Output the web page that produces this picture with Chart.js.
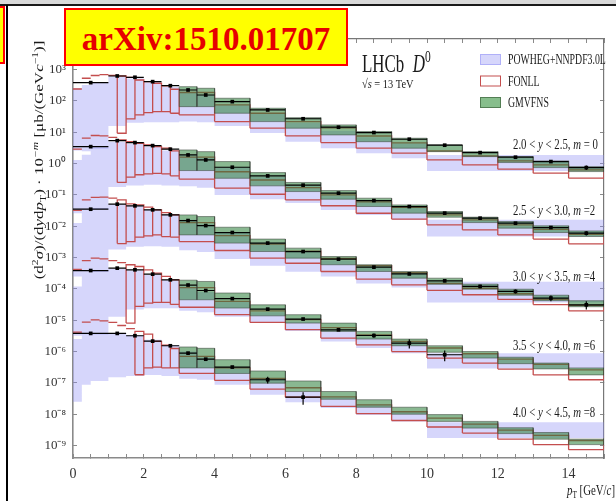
<!DOCTYPE html>
<html lang="en">
<head>
<meta charset="utf-8">
<title>LHCb D0 - 13 TeV</title>
<script src="https://cdn.jsdelivr.net/npm/chart.js@4.4.1/dist/chart.umd.min.js"></script>
<style>
  html, body { margin: 0; padding: 0; background: #fff; }
  #cadre { position: relative; width: 616px; height: 501px; overflow: hidden; background: #fff; }
  #graphe { position: absolute; left: 0; top: 0; }
  .bandeau { position: absolute; left: 0; top: 0; width: 616px; height: 4px; background: #d9d9d9; }
  .filet { position: absolute; left: 0; top: 4px; width: 616px; height: 2px; background: #1a1a1a; }
  .barre { position: absolute; left: 6px; top: 5px; width: 2px; height: 496px; background: #000; }
  .onglet { position: absolute; left: -8px; top: 6px; width: 9px; height: 54px; background: #ff0; border: 2px solid #f00; }
  .arxiv {
    position: absolute; left: 64px; top: 8px; width: 280px; height: 54px;
    background: #ff0; border: 2px solid #f00; color: #e60000;
    font: bold 33px "Liberation Serif", serif; text-align: center; line-height: 58px;
  }
</style>
</head>
<body>
<div id="cadre">
  <canvas id="graphe" width="616" height="501"></canvas>
  <div class="bandeau"></div>
  <div class="filet"></div>
  <div class="barre"></div>
  <div class="onglet"></div>
  <div class="arxiv">arXiv:1510.01707</div>
</div>
<script>
/**
 * Bords des bins en pT (GeV/c) de chaque jeu de données.
 */
const bordsMesure = [0, 1, 1.5, 2, 2.5, 3, 3.5, 4, 5, 6, 7, 8, 9, 10, 11, 12, 13, 14, 15]
const bordsPowheg = [0, 0.25, 0.5, 1, 1.5, 2, 2.5, 3, 3.5, 4, 5, 6, 7, 8, 9, 10, 15]
const bordsFonll = [0, 0.25, 0.5, 0.75, 1, 1.25, 1.5, 1.75, 2, 2.25, 2.5, 2.75, 3, 4, 5, 6, 7, 8, 9, 10, 11, 12, 13, 14, 15]
const bordsGmvfns = [3, 3.5, 4, 5, 6, 7, 8, 9, 10, 11, 12, 13, 14, 15]
const graduationsY = [1e-9, 1e-8, 1e-7, 1e-6, 1e-5, 1e-4, 1e-3, 1e-2, 1e-1, 1, 10, 100, 1000]
const graduationsX = [0, 2, 4, 6, 8, 10, 12, 14]

/**
 * Intervalles en rapidité et facteur d'échelle 10^-m.
 */
const rapiditeMin = ['2.0', '2.5', '3.0', '3.5', '4.0']
const rapiditeMax = ['2.5', '3.0', '3.5', '4.0', '4.5']
const exposantM = [0, 2, 4, 6, 8]

/**
 * 2.0 < y < 2.5, m = 0
 */
const mesureY1 = [384, 627, 570, 413, 307, 224, 155, 95, 51.6, 27, 14.5, 9.8, 6.0, 3.87, 2.24, 1.6, 1.16, 0.745]
const erreurY1 = [20, 30, 28, 20, 15, 11, 8, 4.5, 2.5, 1.3, 0.8, 0.6, 0.35, 0.25, 0.18, 0.14, 0.12, 0.12]
const powhegHautY1 = [254, 324, 390, 600, 520, 390, 280, 198, 155, 75, 40, 20, 11, 7, 4.5, 1.89]
const powhegBasY1 = [2.6, 2.5, 3.0, 16, 20, 21, 21, 22, 21, 16, 9.5, 5.0, 3.1, 2.15, 1.49, 0.585]
const fonllHautY1 = [241, 530, 650, 690, 660, 627, 570, 467, 413, 367, 301, 236, 186, 74.6, 40.5, 21.9, 13.8, 7.6, 4.6, 2.54, 1.76, 1.22, 0.91, 0.63]
const fonllBasY1 = [null, null, null, null, null, 9.3, 26.7, 35.7, 42.4, 45.6, 45.6, 40.5, 35.7, 21.9, 13.5, 7.65, 4.68, 3.1, 2.15, 1.31, 0.91, 0.663, 0.494, 0.342]
const gmvfnsHautY1 = [286, 254, 122, 58.5, 29.3, 17.2, 10.5, 6.46, 3.95, 2.41, 1.67, 1.22, 0.80]
const gmvfnsBasY1 = [65.8, 65.8, 40.5, 21.9, 13.5, 8.23, 5.0, 3.1, 2.41, 1.67, 1.08, 0.745, 0.556]

/**
 * 2.5 < y < 3.0, m = 2
 */
const mesureY2 = [3.48, 5.42, 4.68, 3.75, 2.88, 1.89, 1.31, 0.766, 0.405, 0.205, 0.114, 0.066, 0.0426, 0.0262, 0.0181, 0.0125, 0.0091, 0.006]
const erreurY2 = [0.17, 0.27, 0.23, 0.18, 0.14, 0.09, 0.065, 0.04, 0.02, 0.011, 0.006, 0.0038, 0.0026, 0.0019, 0.0015, 0.0012, 0.001, 0.0009]
const powhegHautY2 = [1.3, 1.9, 3.3, 5.0, 4.3, 3.5, 2.6, 1.9, 1.5, 0.75, 0.38, 0.19, 0.1, 0.06, 0.038, 0.016]
const powhegBasY2 = [0.026, 0.03, 0.035, 0.18, 0.2, 0.21, 0.2, 0.19, 0.17, 0.1, 0.073, 0.055, 0.033, 0.023, 0.016, 0.0047]
const fonllHautY2 = [2.88, 6.46, 7.9, 7.65, 6.9, 5.7, 5.0, 4.47, 3.95, 3.47, 3.1, 2.54, 1.6, 0.55, 0.3, 0.17, 0.1, 0.06, 0.04, 0.023, 0.016, 0.011, 0.008, 0.0055]
const fonllBasY2 = [null, null, null, null, null, 0.25, 0.37, 0.44, 0.47, 0.49, 0.47, 0.405, 0.318, 0.164, 0.105, 0.0695, 0.0452, 0.026, 0.017, 0.0111, 0.0077, 0.0053, 0.0039, 0.00275]
const gmvfnsHautY2 = [2.73, 2.41, 1.16, 0.516, 0.25, 0.138, 0.0787, 0.048, 0.0295, 0.0195, 0.0141, 0.0103, 0.0071]
const gmvfnsBasY2 = [0.6, 0.6, 0.34, 0.195, 0.128, 0.073, 0.0426, 0.0262, 0.0195, 0.0131, 0.0087, 0.0063, 0.0047]

/**
 * 3.0 < y < 3.5, m = 4
 */
const mesureY3 = [0.035, 0.0507, 0.0448, 0.0334, 0.0231, 0.0152, 0.0105, 0.0063, 0.0029, 0.00156, 0.00089, 0.000495, 0.0003, 0.000181, 0.00012, 8.3e-5, 5.1e-5, 3.1e-5]
const erreurY3 = [0.0018, 0.0025, 0.0022, 0.0017, 0.0012, 0.0008, 0.0005, 0.0003, 0.00015, 8e-5, 5e-5, 3e-5, 2.2e-5, 1.8e-5, 1.5e-5, 1.2e-5, 1.1e-5, 0.9e-5]
const powhegHautY3 = [0.0126, 0.03, 0.038, 0.05, 0.045, 0.034, 0.024, 0.016, 0.0115, 0.0062, 0.003, 0.0015, 0.0008, 0.00048, 0.0003, 0.00017]
const powhegBasY3 = [2.5e-4, 3.0e-4, 3.5e-4, 0.0018, 0.0022, 0.0023, 0.0022, 0.0017, 0.0015, 9e-4, 5.5e-4, 3.5e-4, 2.5e-4, 1.5e-4, 1.1e-4, 3.7e-5]
const fonllHautY3 = [0.032, 0.0695, 0.083, 0.085, 0.0787, 0.0695, 0.0519, 0.048, 0.0407, 0.0334, 0.0274, 0.0231, 0.013, 0.005, 0.0027, 0.0016, 9.5e-4, 5.5e-4, 3.3e-4, 1.5e-4, 1.05e-4, 7e-5, 4.6e-5, 3e-5]
const fonllBasY3 = [null, null, null, null, null, 0.0028, 0.00325, 0.0045, 0.0049, 0.0053, 0.0047, 0.0045, 0.00325, 0.00168, 0.00096, 0.00066, 0.00036, 0.000204, 0.000135, 9e-5, 6.5e-5, 4.6e-5, 3.15e-5, 2e-5]
const gmvfnsHautY3 = [0.023, 0.0204, 0.0093, 0.0039, 0.002, 0.00108, 5.9e-4, 3.6e-4, 2.2e-4, 1.42e-4, 9.8e-5, 6.3e-5, 4.2e-5]
const gmvfnsBasY3 = [0.0053, 0.0053, 0.0029, 0.00156, 9.6e-4, 5.9e-4, 3.6e-4, 2.2e-4, 1.4e-4, 9.8e-5, 6.3e-5, 4.2e-5, 2.7e-5]

/**
 * 3.5 < y < 4.0, m = 6
 */
const mesureY4 = [3.86e-4, 4.6e-4, 4.07e-4, 2.95e-4, 1.95e-4, 1.33e-4, 8.9e-5, 4.9e-5, 2.26e-5, 1.09e-5, 4.95e-6, 3.25e-6, 1.86e-6, 7.9e-7]
const erreurY4 = [2e-5, 2.3e-5, 2e-5, 1.5e-5, 1e-5, 7e-6, 4.5e-6, 2.5e-6, 1.2e-6, 6e-7, 4e-7, 5e-7, 6e-7, 3e-7]
const powhegHautY4 = [1.2e-4, 3.0e-4, 3.8e-4, 4.4e-4, 3.9e-4, 2.8e-4, 1.9e-4, 1.2e-4, 8e-5, 4e-5, 1.8e-5, 9e-6, 4.8e-6, 2.8e-6, 1.8e-6, 8.9e-7]
const powhegBasY4 = [3.2e-6, 3.5e-6, 3.5e-6, 1.3e-5, 2.2e-5, 2.4e-5, 2.4e-5, 2.0e-5, 1.8e-5, 1.3e-5, 8.6e-6, 4.5e-6, 2.1e-6, 1.3e-6, 8.9e-7, 2.9e-7]
const fonllHautY4 = [4.2e-4, 8.05e-4, 9.6e-4, 9.1e-4, 8.05e-4, 6.95e-4, 5.9e-4, 5.2e-4, 4.07e-4, 3.19e-4, 2.5e-4, 1.95e-4, 1.1e-4, 4e-5, 2e-5, 1.05e-5, 5.8e-6, 3.4e-6, 2.1e-6, 1.3e-6, 8.5e-7, 5.7e-7, 3.9e-7, 2.6e-7]
const fonllBasY4 = [null, null, null, null, null, null, 8.1e-6, 2.75e-5, 3.5e-5, 3.7e-5, 3.7e-5, 3.2e-5, 2.6e-5, 1.5e-5, 8.5e-6, 5e-6, 2.7e-6, 1.64e-6, 1e-6, 6.2e-7, 4.3e-7, 2.75e-7, 1.8e-7, 1.26e-7]
const gmvfnsHautY4 = [1.9e-4, 1.73e-4, 7.4e-5, 3.1e-5, 1.5e-5, 8.1e-6, 4.4e-6, 2.5e-6, 1.53e-6, 1.0e-6, 6.6e-7, 4.3e-7, 3.0e-7]
const gmvfnsBasY4 = [4.5e-5, 4.5e-5, 2.45e-5, 1.38e-5, 8.1e-6, 4.4e-6, 2.5e-6, 1.53e-6, 9.5e-7, 6.2e-7, 4.1e-7, 2.8e-7, 1.8e-7]

/**
 * 4.0 < y < 4.5, m = 8
 */
const mesureY5 = [3.8e-6, 3.8e-6, 3.2e-6, 2.15e-6, 1.53e-6, 8.9e-7, 5.7e-7, 3.2e-7, 1.26e-7, 3.5e-8]
const erreurY5 = [2e-7, 2e-7, 1.6e-7, 1.1e-7, 8e-8, 5e-8, 3.5e-8, 2.5e-8, 3e-8, 1.5e-8]
const powhegHautY5 = [2.5e-6, 3.6e-6, 3.8e-6, 3.9e-6, 3.3e-6, 2.4e-6, 1.6e-6, 1.0e-6, 6.5e-7, 3.2e-7, 1.3e-7, 5.3e-8, 3.5e-8, 2.0e-8, 1.2e-8, 5.5e-9]
const powhegBasY5 = [2.5e-8, 8.7e-8, 1.15e-7, 1.5e-7, 1.65e-7, 1.8e-7, 1.65e-7, 1.35e-7, 1.25e-7, 8.7e-8, 4.2e-8, 2.4e-8, 1.58e-8, 9.5e-9, 5.9e-9, 1.74e-9]
const fonllHautY5 = [4.2e-6, 8.7e-6, 1.03e-5, 9.5e-6, 8.6e-6, 6.8e-6, 5.4e-6, 4.4e-6, 3.6e-6, 2.1e-6, 1.6e-6, 1.25e-6, 7e-7, 3e-7, 1.4e-7, 7e-8, 3.6e-8, 2e-8, 1.2e-8, 7.5e-9, 4.8e-9, 3.1e-9, 2.1e-9, 1.45e-9]
const fonllBasY5 = [null, null, null, null, null, null, null, 1.82e-7, 3.0e-7, 3.2e-7, 3.0e-7, 3.0e-7, 2.0e-7, 1.2e-7, 6.3e-8, 3.5e-8, 1.78e-8, 1.04e-8, 6.3e-9, 3.9e-9, 2.5e-9, 1.6e-9, 1.07e-9, 7.4e-10]
const gmvfnsHautY5 = [1.4e-6, 1.27e-6, 5.5e-7, 2.4e-7, 1.15e-7, 5.3e-8, 2.9e-8, 1.67e-8, 9.7e-9, 5.9e-9, 3.7e-9, 2.6e-9, 1.6e-9]
const gmvfnsBasY5 = [3.0e-7, 3.0e-7, 2.0e-7, 9.8e-8, 5.3e-8, 3.0e-8, 1.67e-8, 1.0e-8, 5.9e-9, 3.6e-9, 2.4e-9, 1.6e-9, 1.07e-9]

const series = [
  { mesure: mesureY1, erreur: erreurY1, powhegHaut: powhegHautY1, powhegBas: powhegBasY1, fonllHaut: fonllHautY1, fonllBas: fonllBasY1, gmvHaut: gmvfnsHautY1, gmvBas: gmvfnsBasY1 },
  { mesure: mesureY2, erreur: erreurY2, powhegHaut: powhegHautY2, powhegBas: powhegBasY2, fonllHaut: fonllHautY2, fonllBas: fonllBasY2, gmvHaut: gmvfnsHautY2, gmvBas: gmvfnsBasY2 },
  { mesure: mesureY3, erreur: erreurY3, powhegHaut: powhegHautY3, powhegBas: powhegBasY3, fonllHaut: fonllHautY3, fonllBas: fonllBasY3, gmvHaut: gmvfnsHautY3, gmvBas: gmvfnsBasY3 },
  { mesure: mesureY4, erreur: erreurY4, powhegHaut: powhegHautY4, powhegBas: powhegBasY4, fonllHaut: fonllHautY4, fonllBas: fonllBasY4, gmvHaut: gmvfnsHautY4, gmvBas: gmvfnsBasY4 },
  { mesure: mesureY5, erreur: erreurY5, powhegHaut: powhegHautY5, powhegBas: powhegBasY5, fonllHaut: fonllHautY5, fonllBas: fonllBasY5, gmvHaut: gmvfnsHautY5, gmvBas: gmvfnsBasY5 },
]

const LAVANDE = 'rgba(140,140,245,0.36)'
const VERT = 'rgba(40,125,55,0.55)'
const ROUGE = '#c44e4e'
const POLICE = '"Liberation Serif", "Times New Roman", serif'

/**
 * Histogramme en escalier : un point par bord de bin.
 */
const escalier = (bords, valeurs) => {
  const points = valeurs.map((v, i) => ({ x: bords[i], y: v }))
  points.push({ x: bords[valeurs.length], y: valeurs[valeurs.length - 1] })
  return points
}

/**
 * Contours de boîtes [bas, haut], séparés par des trous (y = null).
 * Sans borne basse, seul le trait du haut est tracé.
 */
const boites = (bords, hauts, bas) => {
  const points = []
  hauts.forEach((h, i) => {
    const x0 = bords[i]
    const x1 = bords[i + 1]
    if (bas[i] === null) {
      points.push({ x: x0, y: h }, { x: x1, y: h })
    } else {
      points.push({ x: x0, y: bas[i] }, { x: x0, y: h }, { x: x1, y: h }, { x: x1, y: bas[i] }, { x: x0, y: bas[i] })
    }
    points.push({ x: x1, y: null })
  })
  return points
}

const barresHorizontales = (valeurs) => {
  const points = []
  valeurs.forEach((v, i) => {
    points.push({ x: bordsMesure[i], y: v }, { x: bordsMesure[i + 1], y: v }, { x: bordsMesure[i + 1], y: null })
  })
  return points
}

const barresErreur = (valeurs, erreurs) => {
  const points = []
  valeurs.forEach((v, i) => {
    const c = (bordsMesure[i] + bordsMesure[i + 1]) / 2
    points.push({ x: c, y: v - erreurs[i] }, { x: c, y: v + erreurs[i] }, { x: c, y: null })
  })
  return points
}

const centres = (valeurs) => valeurs.map((v, i) => ({ x: (bordsMesure[i] + bordsMesure[i + 1]) / 2, y: v }))

/**
 * Construction des jeux de données pour Chart.js.
 */
const datasets = []
series.forEach((s) => {
  datasets.push({ data: escalier(bordsPowheg, s.powhegHaut), stepped: true, fill: '+1', backgroundColor: LAVANDE, borderWidth: 0, order: 5 })
  datasets.push({ data: escalier(bordsPowheg, s.powhegBas), stepped: true, fill: false, borderWidth: 0, order: 5 })
  datasets.push({ data: escalier(bordsGmvfns, s.gmvHaut), stepped: true, fill: '+1', backgroundColor: VERT, borderWidth: 0, order: 3 })
  datasets.push({ data: escalier(bordsGmvfns, s.gmvBas), stepped: true, fill: false, borderWidth: 0, order: 3 })
})
datasets.push({ data: series.flatMap((s) => boites(bordsFonll, s.fonllHaut, s.fonllBas)), borderColor: ROUGE, borderWidth: 1.3, order: 4 })
datasets.push({ data: series.flatMap((s) => boites(bordsGmvfns, s.gmvHaut, s.gmvBas)), borderColor: 'rgba(60,70,60,0.55)', borderWidth: 1, order: 2 })
datasets.push({ data: series.flatMap((s) => barresHorizontales(s.mesure)), borderColor: '#000', borderWidth: 1.2, order: 1 })
datasets.push({ data: series.flatMap((s) => barresErreur(s.mesure, s.erreur)), borderColor: '#000', borderWidth: 1.2, order: 1 })
datasets.push({
  data: series.flatMap((s) => centres(s.mesure)),
  showLine: false,
  pointStyle: 'rect',
  pointRadius: 2.6,
  pointBackgroundColor: '#000',
  pointBorderWidth: 0,
  order: 0,
})

const exposant = (n) => String(n).split('').map((c) => '⁻⁰¹²³⁴⁵⁶⁷⁸⁹'['-0123456789'.indexOf(c)]).join('')

/**
 * Texte avec morceaux en italique, exposant ou indice.
 */
const ecrire = (ctx, morceaux, x, y, { taille = 14, serre = 1, ecrase = 1, angle = 0, aligne = 'left', couleur = '#1a1a1a' } = {}) => {
  const police = (m) => `${m.it ? 'italic ' : ''}${m.sup || m.sub ? taille * 0.68 : taille}px ${POLICE}`
  ctx.save()
  let largeur = 0
  morceaux.forEach((m) => {
    ctx.font = police(m)
    largeur += ctx.measureText(m.t).width
  })
  ctx.translate(x, y)
  ctx.rotate(angle)
  ctx.scale(serre, ecrase)
  let cx = 0
  if (aligne === 'center') cx = -largeur / 2
  if (aligne === 'right') cx = -largeur
  ctx.fillStyle = couleur
  ctx.textBaseline = 'alphabetic'
  morceaux.forEach((m) => {
    ctx.font = police(m)
    let dy = 0
    if (m.sup) dy = -taille * 0.4
    if (m.sub) dy = taille * 0.22
    ctx.fillText(m.t, cx, dy)
    cx += ctx.measureText(m.t).width
  })
  ctx.restore()
}

/**
 * Annotations : expérience, légende, intervalles de rapidité et titres des axes.
 */
const annotations = {
  id: 'annotations',
  afterDraw(chart) {
    const { ctx } = chart
    ecrire(ctx, [{ t: 'LHCb  ' }, { t: 'D', it: true }, { t: '0', sup: true }], 362, 72, { taille: 26, serre: 0.65 })
    ecrire(ctx, [{ t: '√' }, { t: 's', it: true }, { t: ' = 13 TeV' }], 362, 88, { taille: 13, serre: 0.8 })

    const legende = [
      { nom: 'POWHEG+NNPDF3.0L', fond: LAVANDE, bord: 'rgba(140,140,245,0.5)' },
      { nom: 'FONLL', fond: '#fff', bord: ROUGE },
      { nom: 'GMVFNS', fond: 'rgb(135,190,140)', bord: 'rgba(70,110,70,0.8)' },
    ]
    legende.forEach((l, i) => {
      const haut = 54 + i * 21.5
      ctx.save()
      ctx.fillStyle = l.fond
      ctx.fillRect(480, haut, 21, 11)
      ctx.strokeStyle = l.bord
      ctx.lineWidth = 1
      ctx.strokeRect(480.5, haut + 0.5, 20, 10)
      ctx.restore()
      ecrire(ctx, [{ t: l.nom }], 508, haut + 10, { taille: 14, serre: 0.7 })
    })

    const lignes = [149, 215, 280.5, 349.5, 417]
    exposantM.forEach((m, i) => {
      ecrire(ctx, [
        { t: `${rapiditeMin[i]} < ` }, { t: 'y', it: true }, { t: ` < ${rapiditeMax[i]}, ` },
        { t: 'm', it: true }, { t: m === 0 ? ' = 0' : ` =${m}` },
      ], 513, lignes[i], { taille: 15, serre: 0.72 })
    })

    ecrire(ctx, [
      { t: '(d' }, { t: '2', sup: true }, { t: 'σ', it: true }, { t: ')/(d' }, { t: 'y', it: true },
      { t: 'd' }, { t: 'p', it: true }, { t: 'T', sub: true }, { t: ') · 10' }, { t: '−m', sup: true, it: true },
      { t: ' [μb/(GeV' }, { t: 'c', it: true }, { t: '−1', sup: true }, { t: ')]' },
    ], 43, 160, { taille: 17, ecrase: 0.78, angle: -Math.PI / 2, aligne: 'center' })

    ecrire(ctx, [{ t: 'p', it: true }, { t: 'T', sub: true }, { t: ' [GeV/' }, { t: 'c', it: true }, { t: ']' }],
      615, 495, { taille: 15, serre: 0.72, aligne: 'right' })
  },
}

const grille = { drawOnChartArea: false, tickLength: -4, color: '#8a8a8a', lineWidth: 1 }
const bordure = { color: '#8a8a8a', width: 1.6 }
const policeGraduation = { family: 'Liberation Serif', size: 14 }

const graphe = new Chart(document.getElementById('graphe'), {
  type: 'line',
  data: { datasets },
  options: {
    responsive: false,
    animation: false,
    devicePixelRatio: 1,
    events: [],
    layout: { padding: { left: 0, top: 39, right: 1, bottom: 0 } },
    elements: { point: { radius: 0 }, line: { tension: 0 } },
    scales: {
      x: {
        type: 'linear',
        position: 'bottom',
        min: 0,
        max: 15,
        afterFit: (axe) => { axe.height = 43 },
        border: bordure,
        grid: grille,
        ticks: {
          stepSize: 0.5,
          autoSkip: false,
          maxRotation: 0,
          padding: 12,
          color: '#333',
          font: policeGraduation,
          callback: (v) => (graduationsX.includes(v) ? String(v) : ''),
        },
      },
      xHaut: {
        type: 'linear',
        position: 'top',
        min: 0,
        max: 15,
        afterFit: (axe) => { axe.height = 0 },
        border: { color: '#777', width: 1.2 },
        grid: grille,
        ticks: { stepSize: 0.5, display: false },
      },
      y: {
        type: 'logarithmic',
        min: 4e-10,
        max: 9.5e3,
        bounds: 'data',
        afterFit: (axe) => { axe.width = 73 },
        afterBuildTicks: (axe) => { axe.ticks = graduationsY.map((value) => ({ value })) },
        border: bordure,
        grid: grille,
        ticks: {
          autoSkip: false,
          padding: 11,
          color: '#333',
          font: { family: 'Liberation Serif', size: 13 },
          callback: (v) => '10' + exposant(Math.round(Math.log10(v))),
        },
      },
      yDroite: {
        type: 'logarithmic',
        position: 'right',
        min: 4e-10,
        max: 9.5e3,
        bounds: 'data',
        afterFit: (axe) => { axe.width = 0 },
        afterBuildTicks: (axe) => { axe.ticks = graduationsY.map((value) => ({ value })) },
        border: { color: '#777', width: 1.2 },
        grid: grille,
        ticks: { display: false },
      },
    },
    plugins: {
      legend: { display: false },
      tooltip: { enabled: false },
    },
  },
  plugins: [annotations],
})
</script>
</body>
</html>
